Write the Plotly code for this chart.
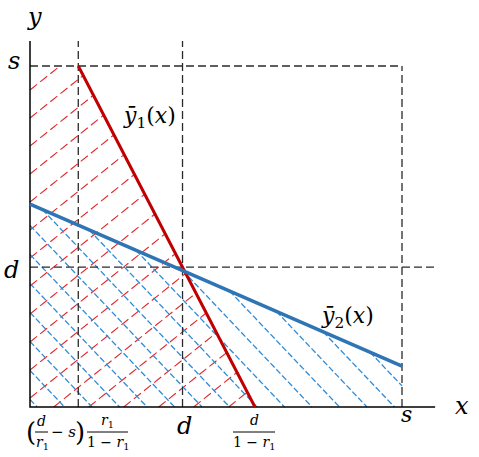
import plotly.graph_objects as go

W, H = 479, 457

# model values (s normalised to 1)
s = 1.0
d = 0.41
r1 = 0.322
blue_y = [0.595, 0.12]          # y2(x) at x = 0 and x = s
blue_x = [0.0, s]

x_top = (d / r1 - s) * r1 / (1 - r1)   # where y1 meets y = s
x_bot = d / (1 - r1)                   # where y1 meets y = 0
red_x = [x_top, x_bot]
red_y = [s, 0.0]

x_end, y_end = 1.089, 1.073      # length of the drawn axes

# hatching (slope, first offset, spacing) in data units
red_hatch = (0.873, 0.0264, 0.0821)
blue_hatch = (-1.151, 0.093, 0.0739)

RED, RED_H = "#C00000", "#E0262C"
BLUE, BLUE_H = "#2E75B6", "#2F8CD8"
DASH = "#2a2a2a"
FONT = "DejaVu Serif"


def clip(p0, v, poly):
    # clip the infinite line p0 + t*v to a convex CCW polygon
    t0, t1 = -1e9, 1e9
    n = len(poly)
    for i in range(n):
        ax, ay = poly[i]
        bx, by = poly[(i + 1) % n]
        ex, ey = bx - ax, by - ay
        c0 = ex * (p0[1] - ay) - ey * (p0[0] - ax)
        c1 = ex * v[1] - ey * v[0]
        if abs(c1) < 1e-12:
            if c0 < 0:
                return None
            continue
        t = -c0 / c1
        if c1 > 0:
            t0 = max(t0, t)
        else:
            t1 = min(t1, t)
    if t1 - t0 < 1e-6:
        return None
    return (p0[0] + t0 * v[0], p0[1] + t0 * v[1]), (p0[0] + t1 * v[0], p0[1] + t1 * v[1])


def hatch(poly, slope, start, step, along_y):
    xs, ys = [], []
    for k in range(-40, 40):
        if along_y:
            p0 = (0.0, start + k * step)
        else:
            p0 = (start + k * step, 0.0)
        seg = clip(p0, (1.0, slope), poly)
        if seg:
            xs += [seg[0][0], seg[1][0], None]
            ys += [seg[0][1], seg[1][1], None]
    return xs, ys


red_poly = [(0, 0), (x_bot, 0), (x_top, s), (0, s)]
blue_poly = [(0, 0), (s, 0), (s, blue_y[1]), (0, blue_y[0])]

fig = go.Figure()

hx, hy = hatch(red_poly, *red_hatch, along_y=True)
fig.add_trace(go.Scatter(x=hx, y=hy, mode="lines", line=dict(color=RED_H, width=1.1, dash="9px,4px")))
hx, hy = hatch(blue_poly, *blue_hatch, along_y=False)
fig.add_trace(go.Scatter(x=hx, y=hy, mode="lines", line=dict(color=BLUE_H, width=1.3, dash="6px,2.5px")))

# dashed guide lines
guides = [
    ([x_top, x_top], [0, y_end]),
    ([d, d], [0, y_end]),
    ([s, s], [0, s]),
    ([0, s], [s, s]),
    ([0, x_end], [d, d]),
]
for gx, gy in guides:
    fig.add_trace(go.Scatter(x=gx, y=gy, mode="lines", line=dict(color=DASH, width=1.3, dash="8px,4px")))

# axes
fig.add_trace(go.Scatter(x=[0, 0, x_end], y=[y_end, 0, 0], mode="lines", line=dict(color="black", width=1.5)))

# y1 and y2
fig.add_trace(go.Scatter(x=red_x, y=red_y, mode="lines", line=dict(color=RED, width=3)))
fig.add_trace(go.Scatter(x=blue_x, y=blue_y, mode="lines", line=dict(color=BLUE, width=3.5)))


def px(xp, yp):
    return dict(x=xp / W, y=1 - yp / H, xref="paper", yref="paper")


def label(text, xp, yp, size):
    fig.add_annotation(text=text, showarrow=False, xanchor="center", yanchor="middle",
                       font=dict(family=FONT, size=size, color="black"), **px(xp, yp))


def bar(x0, x1, yp):
    fig.add_shape(type="line", xref="paper", yref="paper", x0=x0 / W, x1=x1 / W,
                  y0=1 - yp / H, y1=1 - yp / H, line=dict(color="black", width=1))


label("<i>y</i>", 34, 17, 24)
label("<i>x</i>", 462, 406, 24)
label("<i>s</i>", 14, 61, 24)
label("<i>d</i>", 11, 270, 24)
label("<i>d</i>", 184, 426, 24)
label("<i>s</i>", 406, 414, 22)
label("<i>ȳ</i><sub>1</sub>(<i>x</i>)", 149, 117, 22)
label("<i>ȳ</i><sub>2</sub>(<i>x</i>)", 347, 317, 22)

# d / (1 - r1)
label("<i>d</i>", 254, 420, 14)
bar(233, 275, 432)
label("1 − <i>r</i><sub>1</sub>", 254, 443, 14)

# (d/r1 - s) r1/(1 - r1)
label("(", 31, 432, 26)
label("<i>d</i>", 41, 421, 14)
bar(35, 48, 432)
label("<i>r</i><sub>1</sub>", 42, 443, 14)
label("− <i>s</i>", 64, 432, 15)
label(")", 80, 432, 26)
label("<i>r</i><sub>1</sub>", 107, 421, 14)
bar(87, 128, 432)
label("1 − <i>r</i><sub>1</sub>", 108, 443, 14)

fig.update_layout(
    width=W, height=H, autosize=False,
    margin=dict(l=0, r=0, t=0, b=0),
    paper_bgcolor="white", plot_bgcolor="white",
    showlegend=False,
    xaxis=dict(visible=False, range=[-30 / 372, (W - 30) / 372], fixedrange=True),
    yaxis=dict(visible=False, range=[(407 - H) / 341, 407 / 341], fixedrange=True),
)

# the page's default 8px body margin would shift the drawing
fig.write_html("out.html", config={"displayModeBar": False},
               post_script="document.body.style.margin='0px';")
